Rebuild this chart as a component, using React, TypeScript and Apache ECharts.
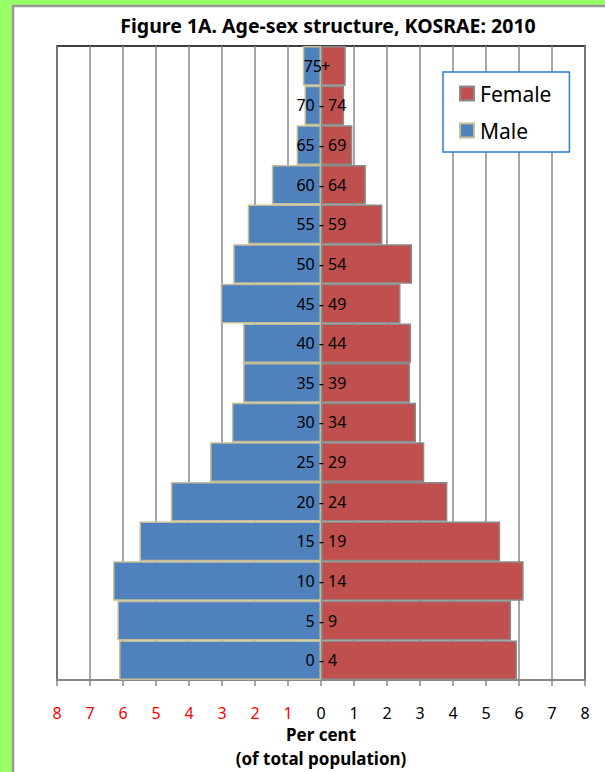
import React, { useEffect, useRef } from "react";
import * as echarts from "echarts";

const ageGroups = ["0 - 4", "5 - 9", "10 - 14", "15 - 19", "20 - 24", "25 - 29", "30 - 34", "35 - 39", "40 - 44", "45 - 49", "50 - 54", "55 - 59", "60 - 64", "65 - 69", "70 - 74", "75+"];
const maleValues = [6.12, 6.17, 6.3, 5.5, 4.55, 3.36, 2.7, 2.36, 2.36, 3.04, 2.66, 2.22, 1.49, 0.74, 0.5, 0.55];
const femaleValues = [5.94, 5.76, 6.14, 5.43, 3.83, 3.13, 2.88, 2.7, 2.73, 2.41, 2.76, 1.86, 1.36, 0.95, 0.7, 0.75];
const xTicks = { min: -8, max: 8, interval: 1 };
const titleText = "Figure 1A. Age-sex structure, KOSRAE: 2010";
const axisTitle = "Per cent\n(of total population)";

const FONT = "'Noto Sans', sans-serif";

function isRange(name: string) {
  return name.indexOf(" - ") >= 0;
}
function leftPart(name: string) {
  const i = name.indexOf(" - ");
  if (i >= 0) return name.slice(0, i + 2);
  return name.replace("+", "");
}
function rightPart(name: string) {
  const i = name.indexOf(" - ");
  if (i >= 0) return name.slice(i + 3);
  return name.indexOf("+") >= 0 ? "+" : "";
}

export default function App() {
  const ref = useRef<HTMLDivElement>(null);
  useEffect(() => {
    if (!ref.current) return;
    const chart = echarts.init(ref.current, null, { renderer: "svg" });
    chart.setOption({
      animation: false,
      backgroundColor: "#99ff66",
      graphic: [
        {
          type: "rect",
          z: -10,
          silent: true,
          shape: { x: 13, y: 6, width: 620, height: 800 },
          style: { fill: "#ffffff", stroke: "#999999", lineWidth: 2.5 },
        },
      ],
      title: {
        text: titleText,
        left: 323,
        textAlign: "center",
        top: 10,
        textStyle: { fontFamily: FONT, fontSize: 19.5, fontWeight: "bold", color: "#000" },
      },
      legend: {
        data: ["Female", "Male"],
        orient: "vertical",
        left: 443,
        top: 72,
        padding: [11, 18, 11, 16],
        itemGap: 16,
        itemWidth: 14,
        itemHeight: 14,
        backgroundColor: "#fff",
        borderColor: "#2e7bd1",
        borderWidth: 1.5,
        icon: "rect",
        textStyle: { fontFamily: FONT, fontSize: 21, color: "#000", padding: [0, 0, 0, 1] },
      },
      grid: {
        left: 57,
        right: 20,
        top: 46,
        bottom: 92,
        outerBoundsMode: "none",
        show: true,
        borderColor: "#000",
        borderWidth: 1.5,
        backgroundColor: "transparent",
      },
      xAxis: {
        type: "value",
        min: xTicks.min,
        max: xTicks.max,
        interval: xTicks.interval,
        name: axisTitle,
        nameLocation: "middle",
        nameGap: 42,
        nameMoveOverlap: false,
        nameTextStyle: { fontFamily: FONT, fontSize: 17, fontWeight: "bold", color: "#000", lineHeight: 24 },
        axisLine: { show: true, lineStyle: { color: "#888", width: 2 } },
        axisTick: { show: true, length: 6, lineStyle: { color: "#888", width: 1.5 } },
        splitLine: { show: true, lineStyle: { color: "#888", width: 1.5 } },
        axisLabel: {
          margin: 25,
          fontFamily: FONT,
          fontSize: 16,
          lineHeight: 16,
          color: (v: number) => (v < 0 ? "#ff0000" : "#000000"),
          formatter: (v: number) => String(Math.abs(v)),
        },
      },
      yAxis: {
        type: "category",
        data: ageGroups,
        axisLine: { show: false },
        axisTick: { show: false },
        axisLabel: { show: false },
        splitLine: { show: false },
      },
      series: [
        {
          name: "Male",
          type: "bar",
          data: maleValues.map((v, i) =>
            isRange(ageGroups[i]) ? -v : { value: -v, label: { offset: [1, 0] } }
          ),
          barGap: "-100%",
          barCategoryGap: "0%",
          itemStyle: { color: "#4f81bd", borderColor: "#c4bd97", borderWidth: 1.5 },
          label: {
            show: true,
            position: "insideRight",
            distance: 0,
            offset: [3, 0],
            fontFamily: FONT,
            fontSize: 16,
            color: "#000",
            formatter: (p: any) => leftPart(p.name),
          },
          z: 3,
        },
        {
          name: "Female",
          type: "bar",
          data: femaleValues.map((v, i) =>
            isRange(ageGroups[i]) ? v : { value: v, label: { distance: 0 } }
          ),
          barGap: "-100%",
          barCategoryGap: "0%",
          itemStyle: { color: "#c0504d", borderColor: "#8a8a8a", borderWidth: 1.5 },
          label: {
            show: true,
            position: "insideLeft",
            distance: 7,
            fontFamily: FONT,
            fontSize: 16,
            color: "#000",
            formatter: (p: any) => rightPart(p.name),
          },
          z: 2,
        },
      ],
    });
    return () => chart.dispose();
  }, []);
  return <div ref={ref} style={{ position: "fixed", left: 0, top: 0, width: 605, height: 772 }} />;
}
